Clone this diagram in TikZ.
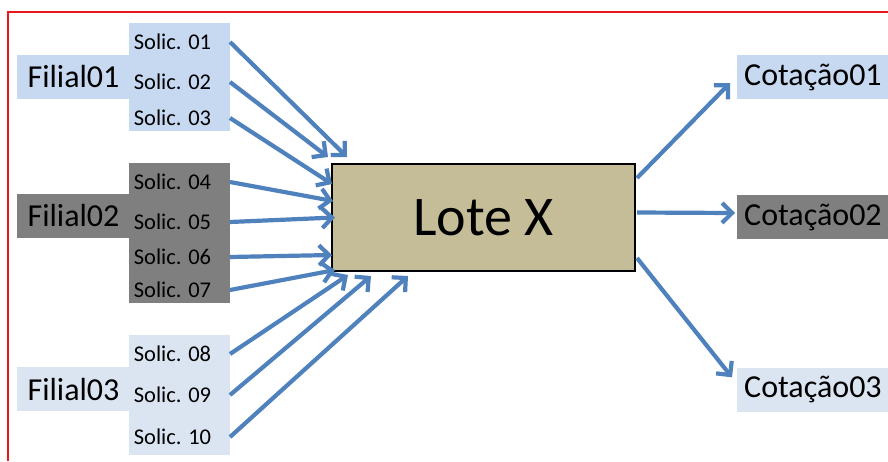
\documentclass[tikz,border=0pt]{standalone}
\usepackage{fontspec}
\setmainfont{Carlito}
\usetikzlibrary{arrows.meta}
\definecolor{azulA}{HTML}{C6D9F1}
\definecolor{cinza}{HTML}{7F7F7F}
\definecolor{azulC}{HTML}{DBE5F1}
\definecolor{bege}{HTML}{C4BD97}
\definecolor{azulseta}{HTML}{4F81BD}
\definecolor{vermelho}{RGB}{232,24,28}

\begin{document}
\begin{tikzpicture}
			[x=1pt, y=-1pt,
			grupo/.style={inner sep=0pt, outer sep=0pt, minimum width=101pt},
			filial/.style={inner sep=0pt, outer sep=0pt, minimum width=113pt, minimum height=44pt, font=\fontsize{32}{38}\selectfont},
			solic/.style={inner sep=0pt, font=\fontsize{22.5}{27}\selectfont},
			cotacao/.style={anchor=west, inner xsep=7pt, inner ysep=0pt, minimum height=44pt, font=\fontsize{32}{38}\selectfont},
			seta/.style={draw=azulseta, line width=4.2pt, -{Straight Barb[length=10pt,width=20pt]}}]
			\useasboundingbox (0,0) rectangle (888,461);
			\draw[vermelho, line width=1.5pt] (8,461) -- (8,12) -- (888,12);
			\node[grupo, fill=azulA, minimum height=108pt] (g1) at (179.5,77) {};
			\node[filial, fill=azulA] (f1) at (73.5,77) {Filial01};
			\node[solic] (s01) at (172.5,42) {Solic. 01};
			\node[solic] (s02) at (172.5,82) {Solic. 02};
			\node[solic] (s03) at (172.5,118) {Solic. 03};
			\node[grupo, fill=cinza, minimum height=140pt] (g2) at (179.5,233) {};
			\node[filial, fill=cinza] (f2) at (73.5,216) {Filial02};
			\node[solic] (s04) at (172.5,182) {Solic. 04};
			\node[solic] (s05) at (172.5,222) {Solic. 05};
			\node[solic] (s06) at (172.5,257) {Solic. 06};
			\node[solic] (s07) at (172.5,290) {Solic. 07};
			\node[grupo, fill=azulC, minimum height=120pt] (g3) at (179.5,395) {};
			\node[filial, fill=azulC] (f3) at (73.5,389) {Filial03};
			\node[solic] (s08) at (172.5,354) {Solic. 08};
			\node[solic] (s09) at (172.5,395) {Solic. 09};
			\node[solic] (s10) at (172.5,437) {Solic. 10};
			\node[draw=black, line width=2pt, fill=bege, minimum width=303pt, minimum height=107pt,
				font=\fontsize{56}{66}\selectfont] (lote) at (483.5,217.5) {Lote X};
			\node[cotacao, fill=azulA] (c1) at (737,77) {Cotação01};
			\node[cotacao, fill=cinza] (c2) at (737,217) {Cotação02};
			\node[cotacao, fill=azulC] (c3) at (737,389.5) {Cotação03};
			\draw[seta] (s01 -| g1.east) -- ([shift={(16,-6)}]lote.north west);
			\draw[seta] (s02 -| g1.east) -- ([shift={(-3,-6)}]lote.north west);
			\draw[seta] (s03 -| g1.east) -- ([shift={(1,21)}]lote.north west);
			\draw[seta] (s04 -| g2.east) -- ([shift={(2,38)}]lote.north west);
			\draw[seta] (s05 -| g2.east) -- ([shift={(4,0)}]lote.west);
			\draw[seta] (s06 -| g2.east) -- ([shift={(1,-17)}]lote.south west);
			\draw[seta] (s07 -| g2.east) -- ([shift={(4,-2)}]lote.south west);
			\draw[seta] (s08 -| g3.east) -- ([shift={(17,3)}]lote.south west);
			\draw[seta] (s09 -| g3.east) -- ([shift={(40,4)}]lote.south west);
			\draw[seta] (s10 -| g3.east) -- ([shift={(77,4)}]lote.south west);
			\draw[seta] ([shift={(1,15)}]lote.north east) -- ([shift={(-7,6)}]c1.west);
			\draw[seta] ([shift={(1,-5)}]lote.east) -- ([shift={(-2,-4)}]c2.west);
			\draw[seta] ([shift={(1,-14)}]lote.south east) -- ([shift={(-5,10)}]c3.north west);
\end{tikzpicture}
\end{document}
